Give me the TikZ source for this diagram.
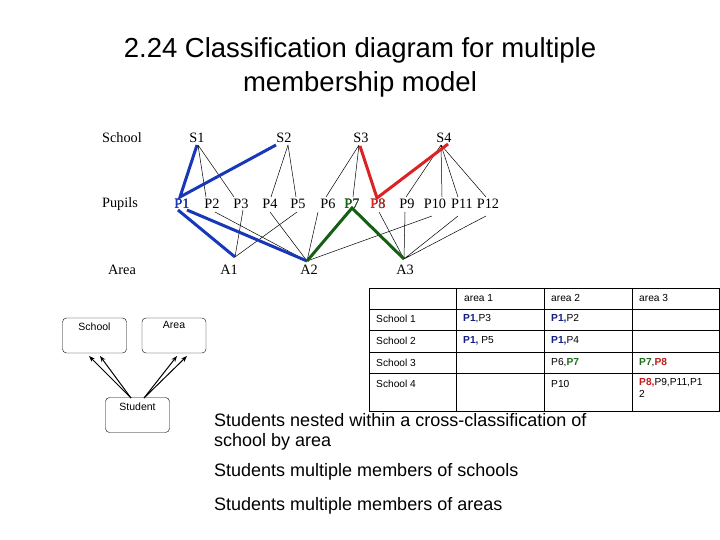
\documentclass[tikz,border=0pt]{standalone}
\usepackage{fontspec}
\setmainfont{Liberation Serif}
\newfontfamily\arial{Liberation Sans}
\usetikzlibrary{arrows.meta}
\definecolor{mblue}{RGB}{25,55,185}
\definecolor{mred}{RGB}{220,35,35}
\definecolor{mgreen}{RGB}{20,95,20}
\definecolor{tblue}{RGB}{20,30,130}
\definecolor{tred}{RGB}{190,30,30}
\definecolor{tgreen}{RGB}{30,110,30}
\begin{document}
\begin{tikzpicture}[x=1pt,y=-1pt,
  lab/.style={font=\fontsize{14.3}{14}\selectfont, inner sep=0pt},
  thin/.style={line width=0.5pt},
  thk/.style={line width=3pt},
  tx/.style={font=\arial\fontsize{10.2}{12}\selectfont, anchor=west, inner sep=0pt},
  box/.style={draw, rounded corners=4pt, font=\arial\fontsize{10.5}{11}\selectfont, minimum width=64pt, minimum height=35pt, align=center},
  big/.style={font=\arial\fontsize{18}{20}\selectfont, anchor=west, inner sep=0pt}]
\useasboundingbox (0,0) rectangle (720,540);
\node[font=\arial\fontsize{27.5}{34}\selectfont, align=center] (title) at (360,67) {2.24 Classification diagram for multiple\\membership model};
% labels
\node[lab] (lS) at (122,138) {School};
\node[lab] (lP) at (120,204) {Pupils};
\node[lab] (lA) at (122,270) {Area};
\foreach \n/\x in {S1/197,S2/284,S3/361,S4/444}{\node[lab] (\n) at (\x,138) {\n};}
\foreach \n/\x in {P1/182,P2/212,P3/241,P4/270,P5/298,P6/328,P7/352,P8/378,P9/407,P10/435,P11/462,P12/488}{\node[lab] (\n) at (\x,204) {\n};}
\foreach \n/\x in {A1/229,A2/309,A3/405}{\node[lab] (\n) at (\x,270) {\n};}
% coordinates
\coordinate (s1) at (198,145); \coordinate (s2) at (288,145);
\coordinate (s3) at (359,145); \coordinate (s4) at (441,145);
\coordinate (a1) at (235,257); \coordinate (a2) at (307,261); \coordinate (a3) at (404,259);
% thin school-pupil
\draw[thin] (s1) -- (206,197) (s1) -- (234,197);
\draw[thin] (s2) -- (271,197) (s2) -- (296,197);
\draw[thin] (s3) -- (326,197) (s3) -- (353,197);
\draw[thin] (s4) -- (406,197) (s4) -- (442,197) (s4) -- (458,197) (s4) -- (486,197);
% thin pupil-area
\draw[thin] (243,210) -- (a1) (297,212) -- (a1);
\draw[thin] (215,212) -- (a2) (270,212) -- (a2) (318,212) -- (a2) (432,216) -- (a2);
\draw[thin] (379,212) -- (a3) (405,212) -- (a3) (458,216) -- (a3) (486,216) -- (a3);
% thick
\draw[thk,mblue] (197,145) -- (180,197) -- (276,145);
\draw[thk,mblue] (178,210) -- (a1);
\draw[thk,mblue] (187,210) -- (a2);
\draw[thk,mred] (360,146) -- (377,198) -- (448,144);
\draw[thk,mgreen] (a2) -- (352,208) -- (a3);
\node[lab,text=mblue] at (182,204) {P1};
\node[lab,text=mgreen] at (352,204) {P7};
\node[lab,text=mred] at (378,204) {P8};
% table
\draw[line width=1pt] (369,288) rectangle (719,411);
\foreach \y in {309,330,352,373}{\draw[line width=1pt] (369,\y) -- (719,\y);}
\foreach \x in {456,544,632}{\draw[line width=1pt] (\x,288) -- (\x,411);}
\node[tx] (h1) at (464,298) {area 1};
\node[tx] (h2) at (551,298) {area 2};
\node[tx] (h3) at (639,298) {area 3};
\node[tx] (r1) at (376,319) {School 1};
\node[tx] (r2) at (376,341) {School 2};
\node[tx] (r3) at (376,363) {School 3};
\node[tx] (r4) at (376,384) {School 4};
\node[tx] (c11) at (463,319) {\textcolor{tblue}{\textbf{P1}},P3};
\node[tx] (c12) at (551,319) {\textcolor{tblue}{\textbf{P1,}}P2};
\node[tx] (c21) at (463,341) {\textcolor{tblue}{\textbf{P1,}} P5};
\node[tx] (c22) at (551,341) {\textcolor{tblue}{\textbf{P1,}}P4};
\node[tx] (c32) at (551,363) {P6,\textcolor{tgreen}{\textbf{P7}}};
\node[tx] (c33) at (639,363) {\textcolor{tgreen}{\textbf{P7}},\textcolor{tred}{\textbf{P8}}};
\node[tx] (c42) at (551,384) {P10};
\node[tx, anchor=north west, align=left] (c43) at (639,378) {\textcolor{tred}{\textbf{P8,}}P9,P11,P1\\2};
% model boxes
\node[box] (school) at (94.5,335.5) {School\\[6pt]};
\node[box] (area) at (174,335.5) {Area\\[10pt]};
\node[box] (student) at (137.5,415) {Student\\[6pt]};
\coordinate (st1) at (131,398); \coordinate (st2) at (144,398);
\draw[-{Stealth[length=6pt]}, line width=1pt] (st1) -- (89,356);
\draw[-{Stealth[length=6pt]}, line width=1pt] (st1) -- (100,356);
\draw[-{Stealth[length=6pt]}, line width=1pt] (st2) -- (177,356);
\draw[-{Stealth[length=6pt]}, line width=1pt] (st2) -- (187,356);
% bottom texts
\node[big] (t1) at (214,420) {Students nested within a cross-classification of};
\node[big] (t2) at (214,442) {school by area};
\node[big] (t3) at (214,472) {Students multiple members of schools};
\node[big] (t4) at (214,506) {Students multiple members of areas};
\end{tikzpicture}
\end{document}
